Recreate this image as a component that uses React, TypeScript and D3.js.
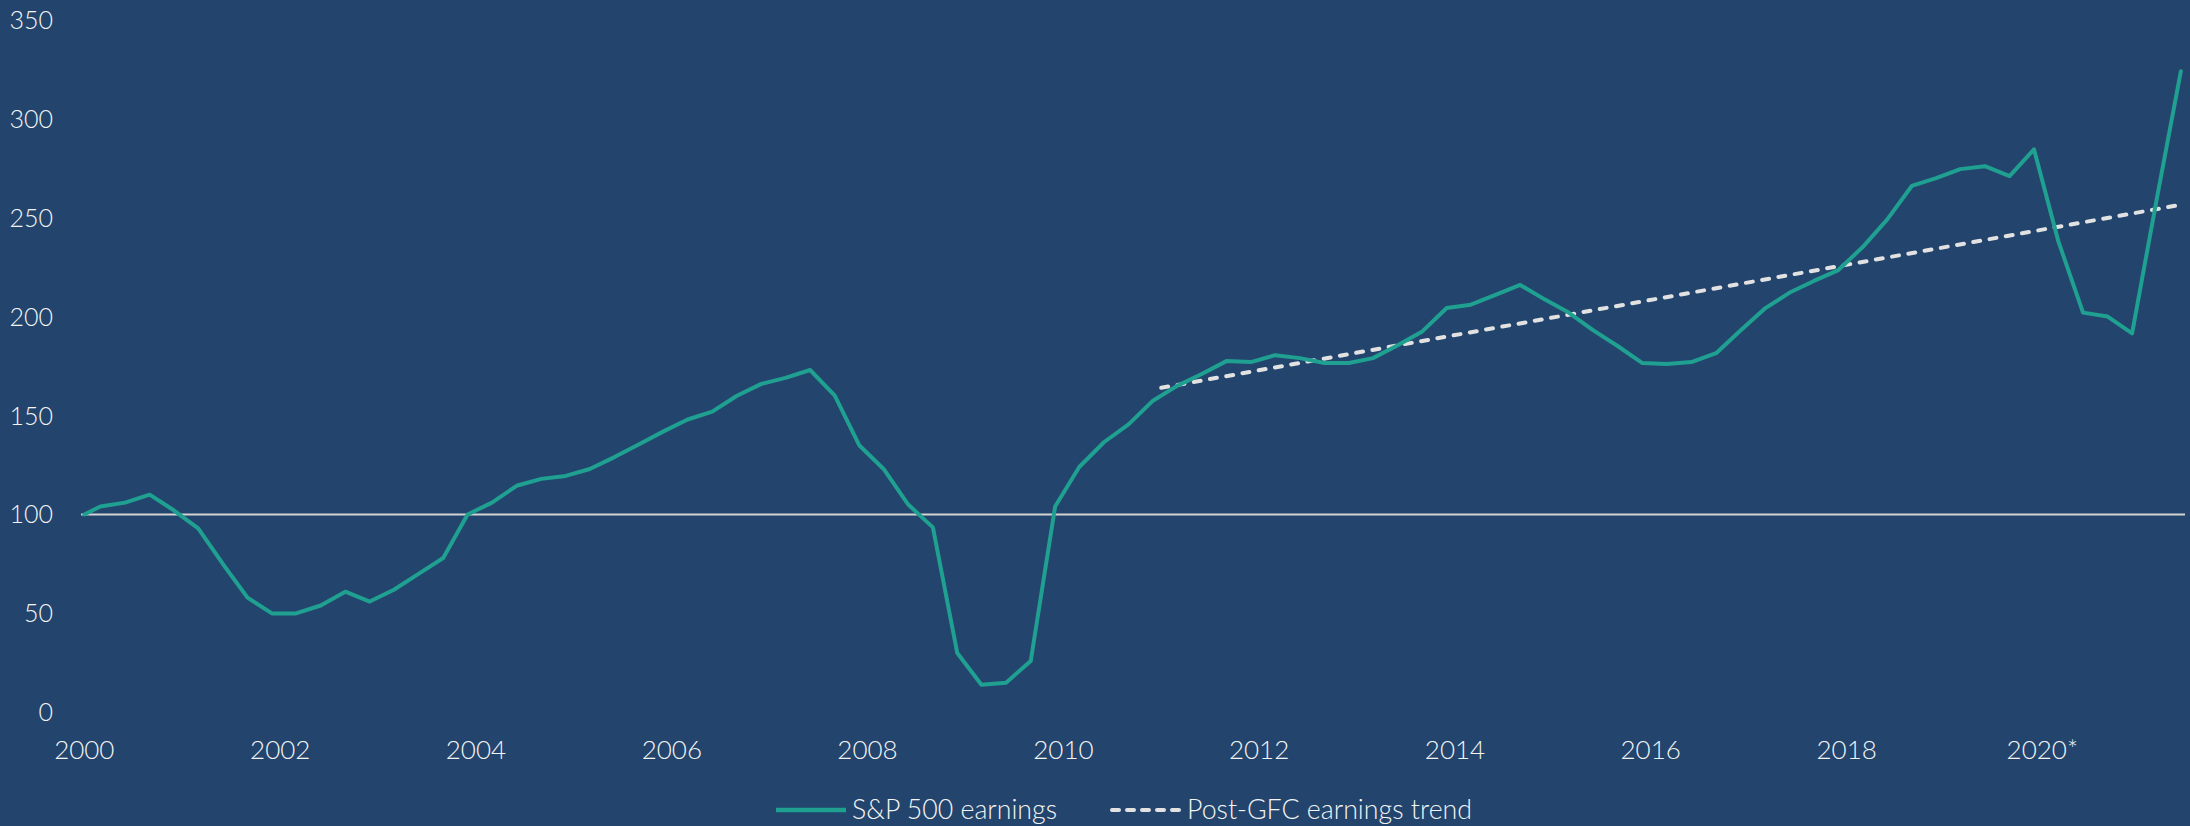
import React, { useEffect } from "react";
import * as d3 from "d3";

// S&P 500 earnings index (2000 = 100), quarterly; first value is the Jan-2000 base
const earnings: number[] = [
  100, 104, 106, 110, 102, 93, 75, 58, 50, 50, 54, 61, 56, 62, 70, 78,
  100, 106, 114.5, 118, 119.5, 123, 129, 135.5, 142, 148, 152, 160, 166, 169,
  173, 160, 135, 123, 105, 93.5, 30, 14, 15, 26, 104, 124, 136.5, 145.5,
  157.5, 165, 171, 177.5, 177, 180.5, 179, 176.5, 176.5, 179, 185.5, 192.5,
  204.3, 206, 211, 216, 208.7, 202, 193, 185, 176.5, 176, 177, 181.5, 193,
  204, 212, 218, 223.5, 235, 249, 266, 270, 274.5, 276, 271, 284.5, 238,
  202, 200, 191.5, 258, 324,
];

// dates: base Jan 2000, then quarter-end months (Mar 2000 ... Jun 2021)
const earningsDates: Date[] = earnings.map((_, i) =>
  i === 0 ? new Date(2000, 0, 1) : new Date(2000, 3 * i - 1, 1)
);

const trendDates: Date[] = [new Date(2011, 0, 1), new Date(2021, 5, 1)];
const trendValues: number[] = [164, 256.5];

const xTickYears: number[] = [2000, 2002, 2004, 2006, 2008, 2010, 2012, 2014, 2016, 2018, 2020];
const xTickLabels: string[] = ["2000", "2002", "2004", "2006", "2008", "2010", "2012", "2014", "2016", "2018", "2020*"];
const yTicks: number[] = [0, 50, 100, 150, 200, 250, 300, 350];
const baseline = 100;

const legendItems = ["S&P 500 earnings", "Post-GFC earnings trend"];

const W = 2190;
const H = 826;
const BG = "#22446D";
const TEAL = "#1FA090";
const TEXT = "#F4F4F4";
const FONT = "Lato, 'Open Sans', sans-serif";

export default function App() {
  useEffect(() => {
    document.body.style.margin = "0";
    document.body.style.background = BG;
  }, []);

  const x = d3
    .scaleTime()
    .domain([new Date(2000, 0, 1), new Date(2020, 0, 1)])
    .range([84.3, 2042.3]);
  const y = d3.scaleLinear().domain([0, 350]).range([712.4, 19.7]);

  const line = d3
    .line<number>()
    .x((_, i) => x(earningsDates[i]))
    .y((d) => y(d));

  const trendLine = d3
    .line<number>()
    .x((_, i) => x(trendDates[i]))
    .y((d) => y(d));

  return (
    <svg width={W} height={H} style={{ display: "block" }}>
      <rect x={0} y={0} width={W} height={H} fill={BG} />
      {/* y tick labels */}
      {yTicks.map((t) => (
        <text
          key={t}
          x={53}
          y={y(t)}
          dy="0.36em"
          textAnchor="end"
          fontFamily={FONT}
          fontWeight={300}
          fontSize={25}
          fill={TEXT}
        >
          {t}
        </text>
      ))}
      {/* x tick labels */}
      {xTickYears.map((yr, i) => (
        <text
          key={yr}
          x={x(new Date(yr, 0, 1))}
          y={759}
          textAnchor="middle"
          fontFamily={FONT}
          fontWeight={300}
          fontSize={26}
          fill={TEXT}
        >
          {xTickLabels[i]}
        </text>
      ))}
      {/* baseline 100 */}
      <line
        x1={81}
        x2={2185}
        y1={y(baseline)}
        y2={y(baseline)}
        stroke="#D4D4D4"
        strokeWidth={2}
      />
      {/* trend */}
      <path
        d={trendLine(trendValues) || ""}
        fill="none"
        stroke="#E2E2E2"
        strokeWidth={4}
        strokeDasharray="7 9.5"
        strokeLinecap="round"
      />
      {/* earnings */}
      <path
        d={line(earnings) || ""}
        fill="none"
        stroke={TEAL}
        strokeWidth={4}
        strokeLinejoin="round"
        strokeLinecap="round"
      />
      {/* legend */}
      <line x1={776} x2={846} y1={810} y2={810} stroke={TEAL} strokeWidth={4.5} />
      <text
        x={852}
        y={819}
        fontFamily={FONT}
        fontWeight={300}
        fontSize={27}
        fill={TEXT}
        textLength={205}
        lengthAdjust="spacingAndGlyphs"
      >
        {legendItems[0]}
      </text>
      <line
        x1={1112}
        x2={1181}
        y1={810}
        y2={810}
        stroke="#E2E2E2"
        strokeWidth={4}
        strokeDasharray="7 8"
        strokeLinecap="round"
      />
      <text
        x={1187}
        y={819}
        fontFamily={FONT}
        fontWeight={300}
        fontSize={27}
        fill={TEXT}
        textLength={285}
        lengthAdjust="spacingAndGlyphs"
      >
        {legendItems[1]}
      </text>
    </svg>
  );
}
